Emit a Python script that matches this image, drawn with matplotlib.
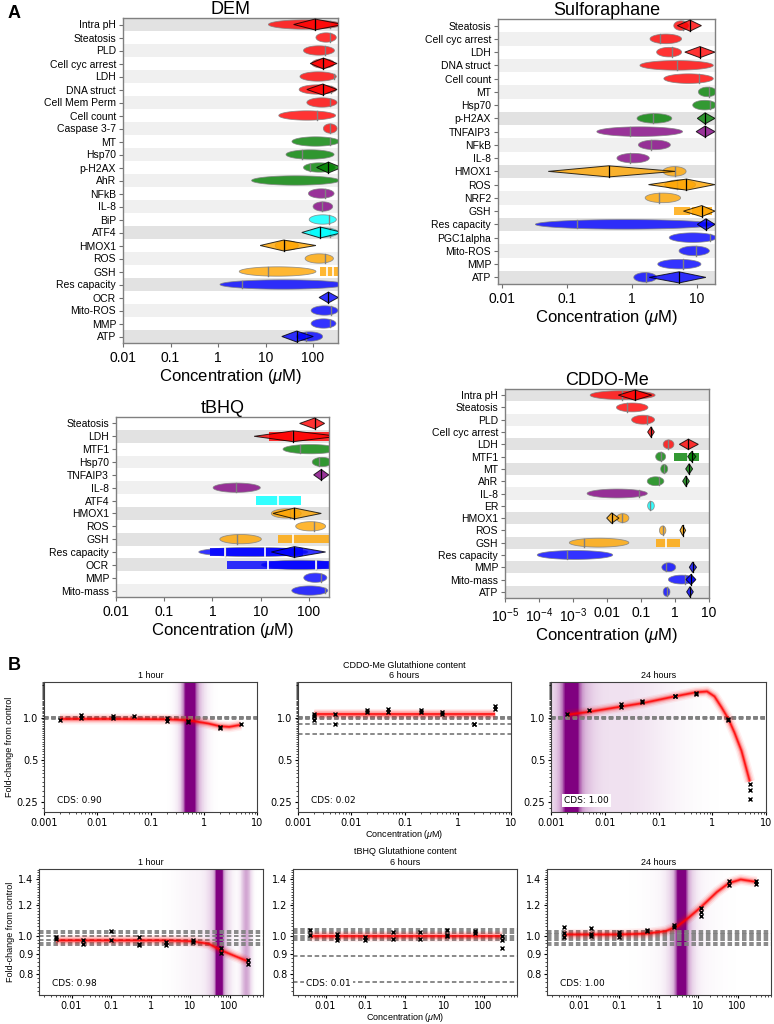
import numpy as np
import matplotlib
matplotlib.use('Agg')
import matplotlib.pyplot as plt
from matplotlib.colors import LinearSegmentedColormap
from matplotlib.ticker import FixedLocator, NullFormatter, MultipleLocator

plt.rcParams['font.family'] = ['Liberation Sans', 'DejaVu Sans']
plt.rcParams['mathtext.fontset'] = 'custom'
plt.rcParams['mathtext.rm'] = 'Liberation Sans'
plt.rcParams['mathtext.it'] = 'Liberation Sans:italic'

W, H = 774, 1024

# ---------------- panel A data ----------------
# ellipses: (row, colour, low, high, mark); diamonds: (row, colour, low, mid, high); bars: (row, colour, low, high, marks)
dem_labels = ['Intra pH', 'Steatosis', 'PLD', 'Cell cyc arrest', 'LDH', 'DNA struct', 'Cell Mem Perm',
              'Cell count', 'Caspase 3-7', 'MT', 'Hsp70', 'p-H2AX', 'AhR', 'NFkB', 'IL-8', 'BiP', 'ATF4',
              'HMOX1', 'ROS', 'GSH', 'Res capacity', 'OCR', 'Mito-ROS', 'MMP', 'ATP']
dem_dark = ['Intra pH', 'ATF4', 'Res capacity', 'ATP']
dem_ellipses = [
    ('Intra pH', 'red', 11.5, 400, 229), ('Steatosis', 'red', 115, 309, 229),
    ('PLD', 'red', 63, 282, 178), ('Cell cyc arrest', 'red', 94, 282, 165),
    ('LDH', 'red', 53, 309, 282), ('DNA struct', 'red', 51, 309, 240),
    ('Cell Mem Perm', 'red', 74, 320, 229), ('Cell count', 'red', 19, 298, 119),
    ('Caspase 3-7', 'red', 165, 320, 229), ('MT', 'green', 36, 360, 229),
    ('Hsp70', 'green', 27, 277, 58), ('p-H2AX', 'green', 63, 293, 87),
    ('AhR', 'green', 5.1, 360, None), ('NFkB', 'purple', 80, 277, 178),
    ('IL-8', 'purple', 100, 259, 152), ('BiP', 'cyan', 83, 309, 221),
    ('ATF4', 'cyan', 87, 335, 229), ('HMOX1', 'orange', 16, 49, 26),
    ('ROS', 'orange', 68, 268, 178), ('GSH', 'orange', 2.8, 115, 11),
    ('Res capacity', 'blue', 1.1, 500, 3.2), ('Mito-ROS', 'blue', 91, 335, 240),
    ('MMP', 'blue', 91, 304, 229), ('ATP', 'blue', 45, 159, 71)]
dem_diamonds = [
    ('Intra pH', 'red', 39, 110, 430), ('Cell cyc arrest', 'red', 87, 165, 320),
    ('DNA struct', 'red', 74, 159, 320), ('p-H2AX', 'green', 119, 210, 400),
    ('ATF4', 'cyan', 58, 141, 420), ('HMOX1', 'orange', 7.7, 24, 115),
    ('OCR', 'blue', 134, 210, 340), ('ATP', 'blue', 22, 45, 101)]
dem_bars = [('GSH', 'orange', 141, 400, [194, 268])]

sfn_labels = ['Steatosis', 'Cell cyc arrest', 'LDH', 'DNA struct', 'Cell count', 'MT', 'Hsp70', 'p-H2AX',
              'TNFAIP3', 'NFkB', 'IL-8', 'HMOX1', 'ROS', 'NRF2', 'GSH', 'Res capacity', 'PGC1alpha',
              'Mito-ROS', 'MMP', 'ATP']
sfn_dark = ['p-H2AX', 'HMOX1', 'Res capacity', 'ATP']
sfn_ellipses = [
    ('Steatosis', 'red', 4.4, 7.4, 6.2), ('Cell cyc arrest', 'red', 1.9, 5.8, 2.7),
    ('LDH', 'red', 2.4, 5.8, 4.1), ('DNA struct', 'red', 1.33, 17.8, 4.9),
    ('Cell count', 'red', 3.1, 17.8, 10.9), ('MT', 'green', 10.5, 20, 15.5),
    ('Hsp70', 'green', 8.6, 20, 16), ('p-H2AX', 'green', 1.2, 4.1, 2.1),
    ('TNFAIP3', 'purple', 0.29, 6.0, 0.93), ('NFkB', 'purple', 1.26, 3.9, 1.96),
    ('IL-8', 'purple', 0.59, 1.85, 0.93), ('HMOX1', 'orange', 3.0, 6.8, 4.6),
    ('ROS', 'orange', 3.2, 9.5, 4.9), ('NRF2', 'orange', 1.6, 5.6, 2.6),
    ('Res capacity', 'blue', 0.033, 18.9, 0.146), ('PGC1alpha', 'blue', 3.75, 20, 16),
    ('Mito-ROS', 'blue', 5.3, 15.5, 9.7), ('MMP', 'blue', 2.5, 11.5, 6.2),
    ('ATP', 'blue', 1.07, 2.4, 1.64)]
sfn_diamonds = [
    ('Steatosis', 'red', 5.0, 7.8, 11.7), ('LDH', 'red', 6.5, 11.1, 18.9),
    ('p-H2AX', 'green', 10.1, 13.3, 18.9), ('TNFAIP3', 'purple', 9.7, 13.3, 18.9),
    ('HMOX1', 'orange', 0.052, 0.44, 4.6), ('ROS', 'orange', 1.8, 6.9, 18.9),
    ('GSH', 'orange', 6.2, 11.8, 18.9), ('Res capacity', 'blue', 10.1, 13.7, 18.9),
    ('ATP', 'blue', 1.85, 5.3, 13.7)]
sfn_bars = [('GSH', 'orange', 4.4, 16.8, [8.0])]

tbhq_labels = ['Steatosis', 'LDH', 'MTF1', 'Hsp70', 'TNFAIP3', 'IL-8', 'ATF4', 'HMOX1', 'ROS', 'GSH',
               'Res capacity', 'OCR', 'MMP', 'Mito-mass']
tbhq_dark = ['LDH', 'HMOX1', 'GSH', 'OCR']
tbhq_ellipses = [
    ('MTF1', 'green', 29, 400, 64), ('Hsp70', 'green', 117, 300, 165),
    ('IL-8', 'purple', 1.03, 9.8, 3.1), ('HMOX1', 'orange', 16.6, 69, 40),
    ('ROS', 'orange', 53, 221, 125), ('GSH', 'orange', 1.42, 10.3, 3.2),
    ('Res capacity', 'blue', 0.52, 95, 1.8), ('OCR', 'blue', 10.3, 400, 142),
    ('MMP', 'blue', 78, 235, 180), ('Mito-mass', 'blue', 44, 245, 211)]
tbhq_diamonds = [
    ('Steatosis', 'red', 64, 131, 211), ('LDH', 'red', 7.3, 47, 400),
    ('TNFAIP3', 'purple', 125, 180, 257), ('HMOX1', 'orange', 18, 50, 180),
    ('Res capacity', 'blue', 16.6, 50, 221)]
tbhq_bars = [
    ('LDH', 'red', 15, 400, [47]), ('ATF4', 'cyan', 7.9, 69, [23]),
    ('GSH', 'orange', 23, 400, [47]), ('Res capacity', 'blue', 0.88, 75, [1.8, 12.5]),
    ('OCR', 'blue', 2.0, 400, [14.2, 142])]

cddo_labels = ['Intra pH', 'Steatosis', 'PLD', 'Cell cyc arrest', 'LDH', 'MTF1', 'MT', 'AhR', 'IL-8',
               'ER', 'HMOX1', 'ROS', 'GSH', 'Res capacity', 'MMP', 'Mito-mass', 'ATP']
cddo_dark = ['Intra pH', 'LDH', 'MT', 'HMOX1', 'GSH', 'MMP', 'ATP']
cddo_ellipses = [
    ('Intra pH', 'red', 0.0032, 0.26, 0.027), ('Steatosis', 'red', 0.019, 0.16, 0.04),
    ('PLD', 'red', 0.053, 0.25, 0.15), ('LDH', 'red', 0.45, 0.93, 0.61),
    ('MTF1', 'green', 0.27, 0.53, 0.38), ('MT', 'green', 0.38, 0.61, 0.47),
    ('AhR', 'green', 0.153, 0.47, 0.34), ('IL-8', 'purple', 0.0026, 0.153, 0.089),
    ('ER', 'cyan', 0.157, 0.246, 0.19), ('HMOX1', 'orange', 0.019, 0.044, 0.027),
    ('ROS', 'orange', 0.35, 0.54, 0.43), ('GSH', 'orange', 7.8e-4, 0.044, 0.00215),
    ('Res capacity', 'blue', 8.9e-5, 0.0147, 6.8e-4), ('MMP', 'blue', 0.41, 1.05, 0.54),
    ('Mito-mass', 'blue', 0.64, 3.9, 2.0), ('ATP', 'blue', 0.45, 0.71, 0.57)]
cddo_diamonds = [
    ('Intra pH', 'red', 0.0215, 0.067, 0.206), ('Cell cyc arrest', 'red', 0.157, 0.197, 0.246),
    ('LDH', 'red', 1.34, 2.47, 4.85), ('MTF1', 'green', 2.36, 3.1, 4.1),
    ('MT', 'green', 2.06, 2.6, 3.3), ('AhR', 'green', 1.68, 2.1, 2.64),
    ('HMOX1', 'orange', 0.0098, 0.0137, 0.0225), ('ROS', 'orange', 1.4, 1.68, 2.06),
    ('MMP', 'blue', 2.64, 3.3, 4.3), ('Mito-mass', 'blue', 2.1, 2.96, 4.1),
    ('ATP', 'blue', 2.2, 2.76, 3.46)]
cddo_bars = [('MTF1', 'green', 0.93, 5.2, [2.36]), ('GSH', 'orange', 0.27, 1.4, [0.53])]

# ---------------- panel B data ----------------
cddo_doses = [0.002, 0.005, 0.02, 0.05, 0.2, 0.5, 2, 5]
cddo_1h = [[0.96], [1.04, 0.99], [1.03, 1.0], [1.03], [0.99, 0.95], [0.95, 0.93], [0.86, 0.84], [0.90]]
cddo_6h = [[1.07, 1.03, 0.96], [1.07, 0.90], [1.13, 1.10], [1.15, 1.10], [1.13, 1.09], [1.10, 1.06],
           [0.90, 0.90], [1.22, 1.15]]
cddo_24h = [[1.07], [1.13], [1.25, 1.19], [1.31, 1.30], [1.44, 1.42], [1.50, 1.48], [0.98, 0.96],
            [0.335, 0.305, 0.264]]
cddo_1h_fit_x = [0.002, 0.02, 0.2, 0.5, 1.2, 2, 3, 5]
cddo_1h_fit_y = [0.98, 0.98, 0.975, 0.96, 0.91, 0.87, 0.86, 0.89]
cddo_6h_fit_x = [0.002, 5]
cddo_6h_fit_y = [1.06, 1.06]
cddo_24h_fit_x = [0.002, 0.005, 0.02, 0.05, 0.2, 0.5, 0.8, 1.1, 1.5, 2.0, 2.6, 3.5, 5]
cddo_24h_fit_y = [1.05, 1.10, 1.20, 1.27, 1.42, 1.52, 1.54, 1.42, 1.18, 0.98, 0.78, 0.58, 0.35]
cddo_refs = [[0.98, 0.99, 1.0, 1.01, 1.02],
             [0.98, 0.99, 1.0, 1.01, 1.02, 0.90, 0.77],
             [0.98, 0.99, 1.0, 1.01, 1.02]]
# purple bands: (log10 centre, width, weight)
cddo_bands = [[(-0.26, 0.07, 1.4), (-0.22, 0.16, 0.35)],
              [],
              [(-2.62, 0.09, 1.4), (-2.62, 0.25, 0.35), (-1.7, 0.7, 0.12)]]
cddo_cds = ['0.90', '0.02', '1.00']

tbhq_doses = [0.004, 0.02, 0.1, 0.5, 2.5, 12, 60, 300]
tbhq_1h = [[0.996, 0.986], [0.98, 0.957], [1.03, 0.976], [0.996, 0.957, 0.95], [0.967, 0.95],
           [0.98, 0.967], [0.93, 0.905], [0.87, 0.85]]
tbhq_6h = [[1.04, 1.006], [1.01, 0.996, 0.976], [0.996, 0.976], [1.026, 0.986], [1.026, 0.986],
           [1.04, 1.006, 1.0], [1.03, 1.02], [1.0, 0.976, 0.93]]
tbhq_24h = [[1.057, 1.02, 0.996], [1.05, 1.012, 1.0], [1.026, 1.01, 0.996], [1.036, 1.032],
            [1.068, 1.057], [1.18, 1.157, 1.13], [1.385, 1.357], [1.385, 1.365]]
tbhq_1h_fit_x = [0.004, 2.5, 12, 30, 60, 150, 300]
tbhq_1h_fit_y = [0.975, 0.975, 0.97, 0.955, 0.92, 0.885, 0.86]
tbhq_6h_fit_x = [0.004, 300]
tbhq_6h_fit_y = [1.0, 1.0]
tbhq_24h_fit_x = [0.004, 0.1, 0.5, 1.5, 3, 6, 12, 30, 60, 120, 300]
tbhq_24h_fit_y = [1.01, 1.01, 1.015, 1.03, 1.06, 1.12, 1.19, 1.30, 1.37, 1.40, 1.38]
tbhq_refs = [[1.03, 1.016, 1.0, 0.976, 0.961, 0.951],
             [1.045, 1.03, 1.02, 1.0, 0.99, 0.98, 0.889, 0.76],
             [1.03, 1.02, 1.01, 1.0, 0.99, 0.976, 0.961, 0.951]]
tbhq_bands = [[(1.74, 0.06, 1.4), (1.74, 0.18, 0.3), (2.42, 0.09, 0.35), (1.2, 0.4, 0.05)],
              [],
              [(0.58, 0.08, 1.4), (0.58, 0.2, 0.35), (0.6, 0.6, 0.05)]]
tbhq_cds = ['0.98', '0.01', '1.00']

hours = ['1 hour', '6 hours', '24 hours']

fig = plt.figure(figsize=(W / 100, H / 100), dpi=100)


def box(l, t, r, b):
    return fig.add_axes([l / W, 1 - b / H, (r - l) / W, (b - t) / H])


EH, DH, BH = 0.36, 0.42, 0.33  # half heights of ellipse, diamond, bar


def panel_a(ax, title, labels, dark, ellipses, diamonds, bars, xlim, ticks, ticklabels):
    n = len(labels)
    row = {lab: i for i, lab in enumerate(labels)}
    for i, lab in enumerate(labels):
        if (n - 1 - i) % 2 == 0:
            ax.axhspan(i - 0.5, i + 0.5, color='#e2e2e2' if lab in dark else '#f0f0f0', lw=0, zorder=0)
    t = np.linspace(0, 2 * np.pi, 120)
    for lab, col, lo, hi, mark in ellipses:
        y = row[lab]
        c = (np.log10(lo) + np.log10(hi)) / 2
        r = (np.log10(hi) - np.log10(lo)) / 2
        ax.fill(10 ** (c + r * np.cos(t)), y + EH * np.sin(t), fc=col, alpha=0.8, ec='gray', lw=0.6, zorder=2)
        if mark is not None:
            hh = EH * np.sqrt(max(0, 1 - ((np.log10(mark) - c) / r) ** 2))
            ax.plot([mark, mark], [y - hh, y + hh], color='gray', lw=1, zorder=3)
    for lab, col, lo, hi, marks in bars:
        y = row[lab]
        ax.barh(y, hi - lo, left=lo, height=2 * BH, color=col, alpha=0.8, lw=0, zorder=2)
        for m in marks:
            ax.plot([m, m], [y - BH, y + BH], color='white', lw=1.2, zorder=3)
    for lab, col, lo, mid, hi in diamonds:
        y = row[lab]
        ax.fill([lo, mid, hi, mid], [y, y - DH, y, y + DH], fc=col, alpha=0.8, ec='black', lw=0.7, zorder=4)
        ax.plot([mid, mid], [y - DH, y + DH], color='black', lw=0.9, zorder=5)
    ax.set_xscale('log')
    ax.set_xlim(*xlim)
    ax.set_ylim(n - 0.5, -0.5)
    ax.set_yticks(range(n))
    ax.set_yticklabels(labels, fontsize=7.5)
    ax.xaxis.set_major_locator(FixedLocator(ticks))
    ax.xaxis.set_minor_locator(FixedLocator([]))
    ax.set_xticklabels(ticklabels, fontsize=10)
    ax.tick_params(axis='both', colors='#707070', labelcolor='black', length=3, width=0.8, pad=2)
    ax.tick_params(axis='x', pad=3)
    for s in ax.spines.values():
        s.set_color('#808080')
        s.set_linewidth(1)
    ax.set_title(title, fontsize=13, pad=2.5)
    ax.set_xlabel('Concentration ($\\mu$M)', fontsize=12, labelpad=1)


std_ticks = [0.01, 0.1, 1, 10, 100]
std_lbls = ['0.01', '0.1', '1', '10', '100']

ax = box(123, 18, 338, 343)
panel_a(ax, 'DEM', dem_labels, dem_dark, dem_ellipses, dem_diamonds, dem_bars, (0.01, 335), std_ticks, std_lbls)
ax = box(498, 19, 715, 284)
panel_a(ax, 'Sulforaphane', sfn_labels, sfn_dark, sfn_ellipses, sfn_diamonds, sfn_bars, (0.0088, 18.9),
        std_ticks[:4], std_lbls[:4])
ax = box(116, 417, 329, 597)
panel_a(ax, 'tBHQ', tbhq_labels, tbhq_dark, tbhq_ellipses, tbhq_diamonds, tbhq_bars, (0.01, 260), std_ticks, std_lbls)
ax = box(505, 389, 709, 598)
panel_a(ax, 'CDDO-Me', cddo_labels, cddo_dark, cddo_ellipses, cddo_diamonds, cddo_bars, (1e-5, 10),
        [1e-5, 1e-4, 1e-3, 0.01, 0.1, 1, 10],
        ['$10^{-5}$', '$10^{-4}$', '$10^{-3}$', '0.01', '0.1', '1', '10'])

fig.text(8 / W, 1 - 13 / H, 'A', fontsize=13, fontweight='bold', va='center')

# ---------------- panel B ----------------
band_cmap = LinearSegmentedColormap.from_list('band', [(0.5, 0, 0.5, 0), (0.5, 0, 0.5, 1)])


def panel_b(ax, doses, reps, fx, fy, refs, band, cds, xlim, ylim):
    ax.set_xscale('log')
    if band:
        edges = np.linspace(np.log10(xlim[0]), np.log10(xlim[1]), 500)
        mids = (edges[:-1] + edges[1:]) / 2
        dens = np.zeros_like(mids)
        for c, s, w in band:
            dens += w * np.exp(-0.5 * ((mids - c) / s) ** 2)
        ax.pcolormesh(10 ** edges, [0, 1], np.clip(dens, 0, 1)[None, :], cmap=band_cmap, vmin=0, vmax=1,
                      transform=ax.get_xaxis_transform(), zorder=0, shading='flat')
    for lvl in refs:
        ax.axhline(lvl, color='gray', ls='--', lw=1.3, dashes=(2.5, 1.5), zorder=1)
    for lw, a in [(8, 0.06), (6, 0.1), (4, 0.18), (2.5, 0.35), (1.2, 0.8)]:
        ax.plot(fx, fy, color='red', lw=lw, alpha=a, solid_capstyle='butt', zorder=2)
    for d, r in zip(doses, reps):
        ax.plot([d] * len(r), r, 'x', color='black', ms=3.5, mew=1, zorder=3)
    ax.text(0.06, 0.09, 'CDS: ' + cds, transform=ax.transAxes, fontsize=6.5, family='DejaVu Sans',
            va='center', zorder=4, bbox=dict(fc='white', ec='none', pad=1.5))
    ax.set_xlim(*xlim)
    ax.set_ylim(*ylim)
    ax.tick_params(labelsize=7, labelfontfamily='DejaVu Sans', length=2.5, width=0.8, pad=1.5)
    ax.tick_params(which='minor', length=1.6, width=0.5)
    for s in ax.spines.values():
        s.set_color('#404040')
        s.set_linewidth(0.8)


row1 = [(44, 257), (298, 511), (551, 766)]
row2 = [(39, 263), (293, 517), (547, 771)]
r1_top, r1_bot = 682, 812
r2_top, r2_bot = 869, 995

cddo_reps = [cddo_1h, cddo_6h, cddo_24h]
cddo_fits = [(cddo_1h_fit_x, cddo_1h_fit_y), (cddo_6h_fit_x, cddo_6h_fit_y), (cddo_24h_fit_x, cddo_24h_fit_y)]
for k, (l, r) in enumerate(row1):
    ax = box(l, r1_top, r, r1_bot)
    ax.set_yscale('log', base=2)
    panel_b(ax, cddo_doses, cddo_reps[k], cddo_fits[k][0], cddo_fits[k][1], cddo_refs[k], cddo_bands[k],
            cddo_cds[k], (0.001, 10), (0.212, 1.8))
    ax.xaxis.set_major_locator(FixedLocator([0.001, 0.01, 0.1, 1, 10]))
    ax.set_xticklabels(['0.001', '0.01', '0.1', '1', '10'])
    ax.yaxis.set_major_locator(FixedLocator([0.25, 0.5, 1.0]))
    ax.set_yticklabels(['0.25', '0.5', '1.0'])
    ax.yaxis.set_minor_locator(MultipleLocator(0.025))
    ax.yaxis.set_minor_formatter(NullFormatter())
    ax.set_title(hours[k], fontsize=6.5, pad=3)
    if k == 0:
        ax.set_ylabel('Fold-change from control', fontsize=6.5, labelpad=2)
    if k == 1:
        ax.set_xlabel('Concentration ($\\mu$M)', fontsize=6.5, labelpad=0.5)
fig.text((row1[1][0] + row1[1][1]) / 2 / W, 1 - (r1_top - 17) / H, 'CDDO-Me Glutathione content',
         fontsize=6.5, ha='center', va='center')

tbhq_reps = [tbhq_1h, tbhq_6h, tbhq_24h]
tbhq_fits = [(tbhq_1h_fit_x, tbhq_1h_fit_y), (tbhq_6h_fit_x, tbhq_6h_fit_y), (tbhq_24h_fit_x, tbhq_24h_fit_y)]
for k, (l, r) in enumerate(row2):
    ax = box(l, r2_top, r, r2_bot)
    ax.set_yscale('log')
    panel_b(ax, tbhq_doses, tbhq_reps[k], tbhq_fits[k][0], tbhq_fits[k][1], tbhq_refs[k], tbhq_bands[k],
            tbhq_cds[k], (0.0015, 700), (0.705, 1.49))
    ax.xaxis.set_major_locator(FixedLocator([0.01, 0.1, 1, 10, 100]))
    ax.set_xticklabels(['0.01', '0.1', '1', '10', '100'])
    ax.yaxis.set_major_locator(FixedLocator([0.8, 0.9, 1.0, 1.2, 1.4]))
    ax.set_yticklabels(['0.8', '0.9', '1.0', '1.2', '1.4'])
    ax.yaxis.set_minor_locator(MultipleLocator(0.02))
    ax.yaxis.set_minor_formatter(NullFormatter())
    ax.set_title(hours[k], fontsize=6.5, pad=3)
    if k == 0:
        ax.set_ylabel('Fold-change from control', fontsize=6.5, labelpad=2)
    if k == 1:
        ax.set_xlabel('Concentration ($\\mu$M)', fontsize=6.5, labelpad=0.5)
fig.text((row2[1][0] + row2[1][1]) / 2 / W, 1 - 852 / H, 'tBHQ Glutathione content',
         fontsize=6.5, ha='center', va='center')

fig.text(8 / W, 1 - (r1_top - 17) / H, 'B', fontsize=13, fontweight='bold', va='center')

fig.savefig('out.png', dpi=100)
